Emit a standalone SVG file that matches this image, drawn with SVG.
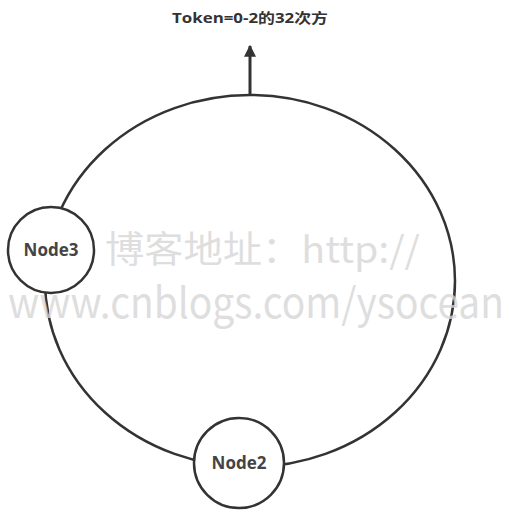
<svg xmlns="http://www.w3.org/2000/svg" width="514" height="510" viewBox="0 0 514 510">
<defs>
<style>
.ring{fill:none;stroke:#333;stroke-width:2.5}
.node{fill:#fff;stroke:#333;stroke-width:2.5}
.lbl{font-family:"Open Sans","Noto Sans","Noto Sans CJK SC",sans-serif;font-weight:bold;font-size:17px;fill:#444;text-anchor:middle}
.wm{font-family:"Noto Sans CJK SC","Noto Sans",sans-serif;fill:#d6d6d6;fill-opacity:0.8}
</style>
<marker id="ah" viewBox="0 0 10 10" refX="9" refY="5" markerWidth="12" markerHeight="12" markerUnits="userSpaceOnUse" orient="auto">
<path d="M0,0 L10,5 L0,10 z" fill="#333"/>
</marker>
</defs>
<rect width="514" height="510" fill="#fff"/>
<g id="connectors">
<ellipse class="ring" cx="250" cy="281" rx="205" ry="186"/>
<line x1="250" y1="95" x2="250" y2="46" stroke="#333" stroke-width="3" marker-end="url(#ah)"/>
</g>
<text x="250" y="23" font-family="'Open Sans','Noto Sans CJK SC',sans-serif" font-weight="bold" font-size="14" fill="#333" text-anchor="middle" textLength="156" lengthAdjust="spacingAndGlyphs">Token=0-2的32次方</text>
<g id="node3">
<circle class="node" cx="51" cy="250" r="43"/>
<text class="lbl" x="51" y="256">Node3</text>
</g>
<g id="node2">
<circle class="node" cx="239" cy="463" r="45"/>
<text class="lbl" x="239" y="469">Node2</text>
</g>
<text class="wm" x="105" y="263" font-size="37" textLength="315" lengthAdjust="spacingAndGlyphs">博客地址：http://</text>
<text class="wm" x="8" y="318" font-size="42" textLength="496" lengthAdjust="spacingAndGlyphs">www.cnblogs.com/ysocean</text>
</svg>
